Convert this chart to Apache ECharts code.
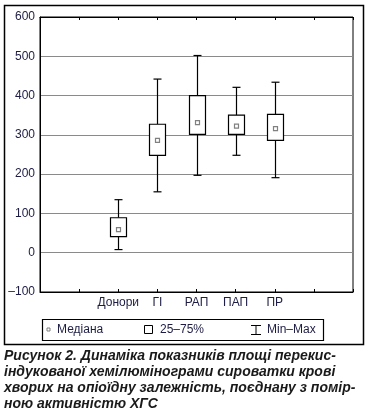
<!DOCTYPE html>
<html>
<head>
<meta charset="utf-8">
<script src="https://cdn.jsdelivr.net/npm/echarts@6/dist/echarts.min.js"></script>
<style>
html,body{margin:0;padding:0;background:#fff;}
#chart{width:368px;height:410px;}
</style>
</head>
<body>
<div id="chart"></div>
<script>
// Data
var categories = ['Донори', 'ГІ', 'РАП', 'ПАП', 'ПР'];
var minValues    = [8, 155, 197, 248, 191];
var q1Values     = [41, 248, 301, 301, 286];
var medianValues = [59, 286, 331, 322, 316];
var q3Values     = [89, 327, 400, 350, 352];
var maxValues    = [135, 442, 502, 421, 434];
var yTicks = [-100, 0, 100, 200, 300, 400, 500, 600];
var legendLabels = ['Медіана', '25–75%', 'Min–Max'];
var captionLines = [
  'Рисунок 2. Динаміка показників площі перекис-',
  'індукованої хемілюмінограми сироватки крові',
  'хворих на опіоїдну залежність, поєднану з помір-',
  'ною активністю ХГС'
];

var boxData = categories.map(function (c, i) {
  return [i, minValues[i], q1Values[i], medianValues[i], q3Values[i], maxValues[i]];
});

var chart = echarts.init(document.getElementById('chart'), null, {renderer: 'canvas'});
var labelColor = '#1c1c44';
var fontFam = '"Liberation Sans", Arial, sans-serif';

function renderBox(params, api) {
  var x = api.value(0);
  var pMin = api.coord([x, api.value(1)]);
  var pQ1 = api.coord([x, api.value(2)]);
  var pMed = api.coord([x, api.value(3)]);
  var pQ3 = api.coord([x, api.value(4)]);
  var pMax = api.coord([x, api.value(5)]);
  var cx = Math.round(pMin[0]) + 0.5;
  var bw = 16, cw = 8, ms = 4;
  var ls = {stroke: '#000', lineWidth: 1.2};
  return {
    type: 'group',
    children: [
      {type: 'line', shape: {x1: cx, y1: pMax[1], x2: cx, y2: pQ3[1]}, style: ls},
      {type: 'line', shape: {x1: cx, y1: pQ1[1], x2: cx, y2: pMin[1]}, style: ls},
      {type: 'line', shape: {x1: cx - cw / 2, y1: pMax[1], x2: cx + cw / 2, y2: pMax[1]}, style: ls},
      {type: 'line', shape: {x1: cx - cw / 2, y1: pMin[1], x2: cx + cw / 2, y2: pMin[1]}, style: ls},
      {type: 'rect', shape: {x: cx - bw / 2, y: pQ3[1], width: bw, height: pQ1[1] - pQ3[1]},
        style: {fill: '#fff', stroke: '#000', lineWidth: 1.2}},
      {type: 'rect', shape: {x: cx - ms / 2, y: pMed[1] - ms / 2, width: ms, height: ms},
        style: {fill: '#fff', stroke: '#808080', lineWidth: 1.2}}
    ]
  };
}

var graphics = [
  // outer frame
  {type: 'rect', shape: {x: 4.5, y: 5.5, width: 359, height: 339}, style: {fill: 'none', stroke: '#000', lineWidth: 1.5}, z: 100},
  // legend box
  {type: 'rect', shape: {x: 42.5, y: 319.5, width: 281, height: 21}, style: {fill: 'none', stroke: '#000', lineWidth: 1.2}, z: 100},
  {type: 'rect', shape: {x: 47, y: 328, width: 3, height: 3}, style: {fill: '#fff', stroke: '#808080', lineWidth: 1}, z: 100},
  {type: 'text', x: 57, y: 330, style: {text: legendLabels[0], font: '12px ' + fontFam, fill: labelColor, textVerticalAlign: 'middle'}, z: 100},
  {type: 'rect', shape: {x: 144.5, y: 325.5, width: 8, height: 8}, style: {fill: '#fff', stroke: '#000', lineWidth: 1}, z: 100},
  {type: 'text', x: 160, y: 330, style: {text: legendLabels[1], font: '12px ' + fontFam, fill: labelColor, textVerticalAlign: 'middle'}, z: 100},
  {type: 'line', shape: {x1: 251, y1: 325.5, x2: 261, y2: 325.5}, style: {stroke: '#000', lineWidth: 1}, z: 100},
  {type: 'line', shape: {x1: 256, y1: 325.5, x2: 256, y2: 334.5}, style: {stroke: '#000', lineWidth: 1}, z: 100},
  {type: 'line', shape: {x1: 251, y1: 334.5, x2: 261, y2: 334.5}, style: {stroke: '#000', lineWidth: 1}, z: 100},
  {type: 'text', x: 267, y: 330, style: {text: legendLabels[2], font: '12px ' + fontFam, fill: labelColor, textVerticalAlign: 'middle'}, z: 100}
];
captionLines.forEach(function (t, i) {
  graphics.push({type: 'text', x: 4, y: 356 + i * 16, style: {text: t, font: 'italic bold 14px ' + fontFam, fill: '#1a1a1a', textVerticalAlign: 'middle'}, z: 100});
});

chart.setOption({
  animation: false,
  backgroundColor: '#fff',
  grid: {left: 40, right: 15, top: 17, bottom: 118, show: true, borderColor: '#000', borderWidth: 1, backgroundColor: 'transparent'},
  xAxis: [
    {
      type: 'value', min: -2, max: 6, interval: 1, position: 'bottom',
      axisLine: {show: true, onZero: false, lineStyle: {color: '#000', width: 1}},
      axisTick: {show: true, inside: true, length: 3, lineStyle: {color: '#000'}},
      splitLine: {show: false},
      axisLabel: {
        margin: 5, color: labelColor, fontSize: 12, fontFamily: fontFam,
        formatter: function (v) { return categories[v] || ''; }
      }
    },
    {
      type: 'value', min: -2, max: 6, interval: 1, position: 'top',
      axisLine: {show: true, onZero: false, lineStyle: {color: '#000', width: 1}},
      axisTick: {show: true, inside: true, length: 3, lineStyle: {color: '#000'}},
      splitLine: {show: false},
      axisLabel: {show: false}
    }
  ],
  yAxis: {
    type: 'value', min: yTicks[0], max: yTicks[yTicks.length - 1], interval: 100,
    axisLine: {show: true, onZero: false, lineStyle: {color: '#000', width: 1}},
    axisTick: {show: false},
    splitLine: {show: true, lineStyle: {color: '#8a8a8a', width: 1}},
    axisLabel: {
      margin: 5, color: labelColor, fontSize: 12, fontFamily: fontFam,
      formatter: function (v) { return String(v).replace('-', '–'); }
    }
  },
  series: [{
    type: 'custom',
    renderItem: renderBox,
    encode: {x: 0, y: [1, 2, 3, 4, 5]},
    data: boxData,
    z: 10
  }],
  graphic: graphics
});
</script>
</body>
</html>
